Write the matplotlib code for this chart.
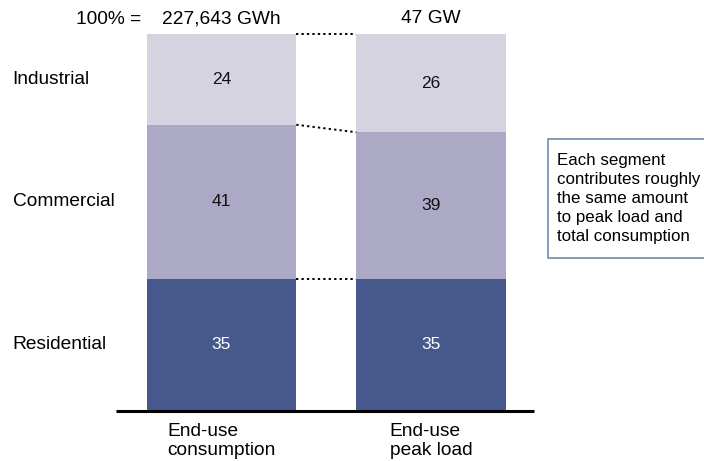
import matplotlib
matplotlib.use("Agg")
import matplotlib.pyplot as plt
import matplotlib.transforms as mtransforms
from matplotlib.patches import Rectangle

plt.rcParams['font.family'] = ['Liberation Sans', 'DejaVu Sans']

categories = ["End-use\nconsumption", "End-use\npeak load"]
totals = ["227,643 GWh", "47 GW"]
segments = ["Residential", "Commercial", "Industrial"]
residential = [35, 35]
commercial = [41, 39]
industrial = [24, 26]
colors = ["#47598c", "#aca9c6", "#d5d3e0"]
text_colors = ["white", "#111111", "#111111"]
note = "Each segment\ncontributes roughly\nthe same amount\nto peak load and\ntotal consumption"

W, H = 704, 461
fig = plt.figure(figsize=(W / 100, H / 100), dpi=100)
ax_left, ax_right = 116, 534
ax = fig.add_axes([ax_left / W, (H - 410.5) / H, (ax_right - ax_left) / W, 376 / H])
# data x: bar centres at 0 and 1
c0, c1 = 221.5, 431.0
pitch = c1 - c0
ax.set_xlim((ax_left - c0) / pitch, (ax_right - c0) / pitch)
ax.set_ylim(0, 100)
ax.axis('off')

x = [0, 1]
bw = 149.5 / pitch
series = [residential, commercial, industrial]
bottoms = [0, 0]
tops_per_level = []
for vals, col, tc in zip(series, colors, text_colors):
    ax.bar(x, vals, width=bw, bottom=bottoms, color=col, edgecolor='none')
    for i in x:
        ax.text(i, bottoms[i] + vals[i] / 2, f"{vals[i]}", ha='center', va='center',
                fontsize=12.5, color=tc)
    bottoms = [b + v for b, v in zip(bottoms, vals)]
    tops_per_level.append(list(bottoms))

# dotted connectors
for tops in tops_per_level:
    ax.plot([x[0] + bw / 2, x[1] - bw / 2], [tops[0], tops[1]], ls=(0, (1.2, 1.6)),
            color='black', lw=1.4, clip_on=False)

# baseline
xl = ax.get_xlim()
ax.plot([xl[0], xl[1]], [0, 0], color='black', lw=2.2, clip_on=False, solid_capstyle='butt')

# segment labels on left (x in figure px, y in data)
blend = mtransforms.blended_transform_factory(fig.transFigure, ax.transData)
base = 0
for name, vals in zip(segments, series):
    fig.text(12.5 / W, base + vals[0] / 2, name, transform=blend, ha='left', va='center',
             fontsize=13.8)
    base += vals[0]

# totals header
for i, t in enumerate(totals):
    ax.text(i, 100 + 4.2, t, ha='center', va='center', fontsize=13.8, clip_on=False)
fig.text(141.5 / W, 1 - 19.5 / H, "100% =", ha='right', va='center', fontsize=13.8)

# category labels
for i, c in enumerate(categories):
    ax.text(i, -3.2, c, ha='center', va='top', multialignment='left', fontsize=13.8,
            linespacing=1.22, clip_on=False)

# note box
fig.patches.append(Rectangle((548 / W, 1 - 258 / H), (W - 548 + 5) / W, 119 / H,
                             transform=fig.transFigure, facecolor='white',
                             edgecolor='#6a7fa8', lw=1.1))
fig.text(557 / W, 1 - 153 / H, note, ha='left', va='top', fontsize=12.2, linespacing=1.33)

fig.savefig("out.png", dpi=100)
